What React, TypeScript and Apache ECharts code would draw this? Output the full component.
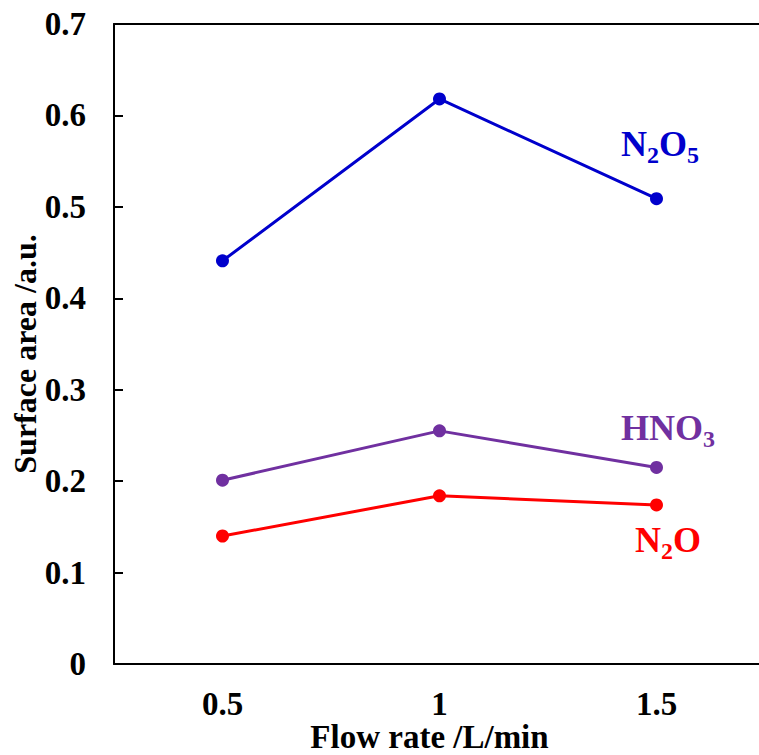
import React, { useEffect, useRef } from "react";
import * as echarts from "echarts";

const categories = ["0.5", "1", "1.5"];
const n2o5 = [0.441, 0.618, 0.509];
const hno3 = [0.201, 0.255, 0.215];
const n2o = [0.140, 0.184, 0.174];
const yTicks = [0, 0.1, 0.2, 0.3, 0.4, 0.5, 0.6, 0.7];

const FONT = "'Liberation Serif', 'Times New Roman', serif";

export default function App() {
  const ref = useRef<HTMLDivElement>(null);
  useEffect(() => {
    if (!ref.current) return;
    const chart = echarts.init(ref.current, null, { renderer: "svg" });
    const mkRich = (color: string) => ({
      m: { fontFamily: FONT, fontWeight: "bold", fontSize: 36, fill: color, color, lineHeight: 46, verticalAlign: "middle" },
      s: { fontFamily: FONT, fontWeight: "bold", fontSize: 24, fill: color, color, lineHeight: 20, verticalAlign: "bottom" },
    });
    const series = [
      { name: "N2O5", data: n2o5, color: "#0000CC" },
      { name: "HNO3", data: hno3, color: "#7030A0" },
      { name: "N2O", data: n2o, color: "#FF0000" },
    ].map((s) => ({
      type: "line",
      name: s.name,
      data: s.data,
      xAxisIndex: 0,
      symbol: "circle",
      symbolSize: 13,
      lineStyle: { color: s.color, width: 3 },
      itemStyle: { color: s.color },
    }));
    chart.setOption({
      animation: false,
      backgroundColor: "#ffffff",
      grid: {
        left: 114,
        top: 24,
        width: 651,
        bottom: 91,
        outerBoundsMode: "none",
        containLabel: false,
      },
      xAxis: [
        {
          type: "category",
          data: categories,
          boundaryGap: true,
          name: "Flow rate /L/min",
          nameLocation: "middle",
          nameGap: 56,
          nameMoveOverlap: false,
          nameTextStyle: { fontFamily: FONT, fontWeight: "bold", fontSize: 33, color: "#000", padding: [0, 20, 0, 0] },
          axisLine: { lineStyle: { color: "#000", width: 2 } },
          axisTick: { inside: true, length: 9, lineStyle: { color: "#000", width: 2 } },
          axisLabel: { fontFamily: FONT, fontWeight: "bold", fontSize: 33, color: "#000", margin: 23 },
          splitLine: { show: false },
        },
        {
          type: "category",
          data: categories,
          position: "top",
          boundaryGap: true,
          axisLine: { show: true, onZero: false, lineStyle: { color: "#000", width: 2 } },
          axisTick: { show: false },
          axisLabel: { show: false },
          splitLine: { show: false },
        },
      ],
      yAxis: {
        type: "value",
        min: 0,
        max: 0.7,
        interval: 0.1,
        name: "Surface area /a.u.",
        nameLocation: "middle",
        nameRotate: 90,
        nameGap: 73,
        nameMoveOverlap: false,
        nameTextStyle: { fontFamily: FONT, fontWeight: "bold", fontSize: 32, color: "#000", padding: [0, 20, 0, 0] },
        axisLine: { show: true, lineStyle: { color: "#000", width: 2 } },
        axisTick: { show: true, inside: true, length: 9, lineStyle: { color: "#000", width: 2 } },
        axisLabel: {
          fontFamily: FONT,
          fontWeight: "bold",
          fontSize: 33,
          color: "#000",
          margin: 28,
          formatter: (v: number) => {
            const t = yTicks.find((x) => Math.abs(x - v) < 1e-9);
            return t === undefined ? "" : String(t);
          },
        },
        splitLine: { show: false },
      },
      series,
      graphic: [
        {
          type: "text",
          left: 621,
          top: 126,
          style: { text: "{m|N}{s|2}{m|O}{s|5}", rich: mkRich("#0000CC") },
        },
        {
          type: "text",
          left: 621,
          top: 410,
          style: { text: "{m|HNO}{s|3}", rich: mkRich("#7030A0") },
        },
        {
          type: "text",
          left: 635,
          top: 522,
          style: { text: "{m|N}{s|2}{m|O}", rich: mkRich("#FF0000") },
        },
      ],
    });
    return () => chart.dispose();
  }, []);
  return (
    <div
      ref={ref}
      style={{ position: "fixed", left: 0, top: 0, width: 759, height: 755, background: "#fff", overflow: "hidden" }}
    />
  );
}
